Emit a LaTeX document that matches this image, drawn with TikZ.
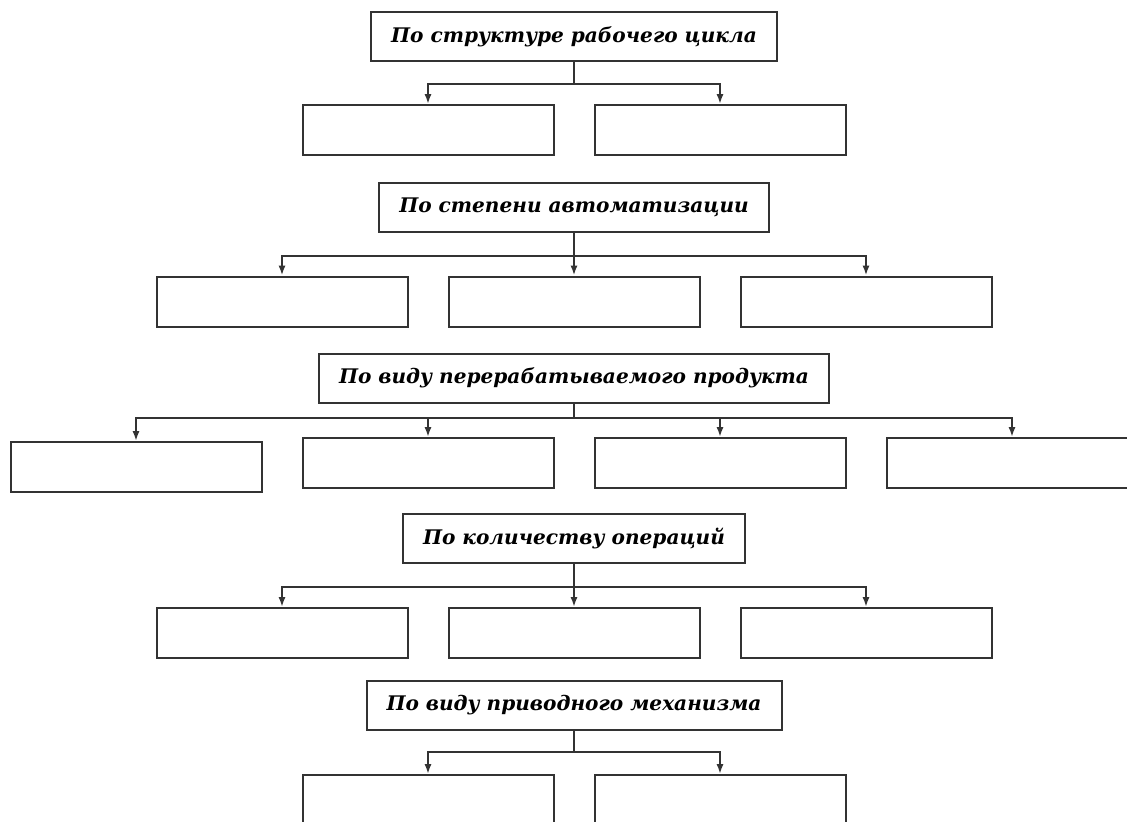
\documentclass[tikz,border=0pt]{standalone}
\usepackage{fontspec}
\setmainfont{DejaVu Serif}
\usetikzlibrary{arrows.meta,positioning,calc}
\tikzstyle{box}=[draw=black!80, line width=1pt, inner sep=0pt]
\tikzstyle{header}=[box, minimum height=24.5pt, inner xsep=10pt, font=\fontsize{10.05}{12}\selectfont\bfseries\itshape]
\tikzstyle{leaf}=[box, minimum width=125.5pt, minimum height=25pt]
\tikzstyle{link}=[draw=black!80, line width=1pt]
\tikzstyle{arrow}=[link, -{Latex[length=5pt,width=3.6pt]}]

\begin{document}
\begin{tikzpicture}[x=0.5pt, y=-0.5pt]
  \useasboundingbox (0,0) rectangle (1127,821);

  % By the structure of the working cycle

  \node[header] (cycle) at (574,36.5) {По структуре рабочего цикла};
  \node[leaf] (cycleA) at (428,130) {};
  \node[leaf, right = 19.5pt of cycleA] (cycleB) {};
  \coordinate (cycleJ) at ($(cycle.south)+(0,22)$);
  \draw[link] (cycle.south) -- (cycleJ);
  \draw[arrow] (cycleJ) -| (cycleA.north);
  \draw[arrow] (cycleJ) -| (cycleB.north);

  % By the degree of automation

  \node[header] (auto) at (574,207.5) {По степени автоматизации};
  \node[leaf] (autoB) at (574,301.5) {};
  \node[leaf, left = 19.5pt of autoB] (autoA) {};
  \node[leaf, right = 19.5pt of autoB] (autoC) {};
  \coordinate (autoJ) at ($(auto.south)+(0,23)$);
  \draw[link] (auto.south) -- (autoJ);
  \draw[arrow] (autoJ) -| (autoA.north);
  \draw[arrow] (autoJ) -- (autoB.north);
  \draw[arrow] (autoJ) -| (autoC.north);

  % By the kind of product processed

  \node[header] (prod) at (574,378) {По виду перерабатываемого продукта};
  \node[leaf] (prodA) at (136,467) {};
  \node[leaf] (prodB) at (428,463) {};
  \node[leaf, right = 19.5pt of prodB] (prodC) {};
  \node[leaf, right = 19.5pt of prodC] (prodD) {};
  \coordinate (prodJ) at ($(prod.south)+(0,14)$);
  \draw[link] (prod.south) -- (prodJ);
  \draw[arrow] (prodJ) -| (prodA.north);
  \draw[arrow] (prodJ) -| (prodB.north);
  \draw[arrow] (prodJ) -| (prodC.north);
  \draw[arrow] (prodJ) -| (prodD.north);

  % By the number of operations

  \node[header] (oper) at (574,538.5) {По количеству операций};
  \node[leaf] (operB) at (574,633) {};
  \node[leaf, left = 19.5pt of operB] (operA) {};
  \node[leaf, right = 19.5pt of operB] (operC) {};
  \coordinate (operJ) at ($(oper.south)+(0,23)$);
  \draw[link] (oper.south) -- (operJ);
  \draw[arrow] (operJ) -| (operA.north);
  \draw[arrow] (operJ) -- (operB.north);
  \draw[arrow] (operJ) -| (operC.north);

  % By the kind of drive mechanism

  \node[header] (drive) at (574,705) {По виду приводного механизма};
  \node[leaf] (driveA) at (428,800) {};
  \node[leaf, right = 19.5pt of driveA] (driveB) {};
  \coordinate (driveJ) at ($(drive.south)+(0,21)$);
  \draw[link] (drive.south) -- (driveJ);
  \draw[arrow] (driveJ) -| (driveA.north);
  \draw[arrow] (driveJ) -| (driveB.north);
\end{tikzpicture}
\end{document}
